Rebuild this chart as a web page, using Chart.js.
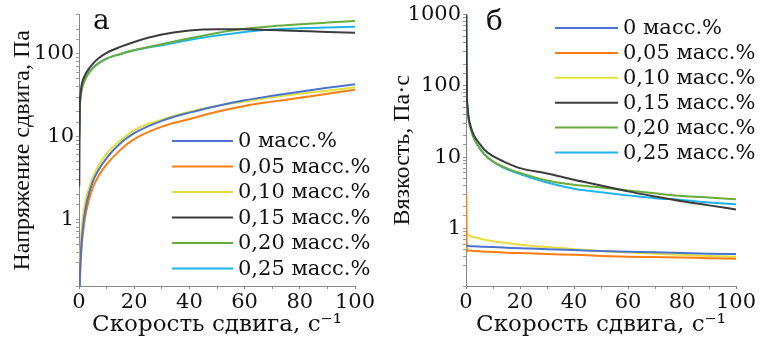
<!DOCTYPE html>
<html>
<head>
<meta charset="utf-8">
<script src="https://cdn.jsdelivr.net/npm/chart.js@4.4.0/dist/chart.umd.min.js"></script>
<style>
  body { margin: 0; background: #fff; }
  #wrap { position: relative; width: 761px; height: 345px; }
  .box { position: absolute; top: 0; height: 345px; }
  #boxA { left: 0; width: 380px; }
  #boxB { left: 380px; width: 381px; }
</style>
</head>
<body>
<div id="wrap">
  <div class="box" id="boxA"><canvas id="chartA"></canvas></div>
  <div class="box" id="boxB"><canvas id="chartB"></canvas></div>
</div>
<script>
// скорость сдвига, 1/с
const shearRate = [0.1, 0.3, 0.5, 1, 2, 3, 5, 7, 10, 15, 20, 30, 40, 50, 60, 70, 80, 90, 100];

const seriesLabels = ['0 масс.%', '0,05 масс.%', '0,10 масс.%', '0,15 масс.%', '0,20 масс.%', '0,25 масс.%'];
const seriesColors = ['#4a72d0', '#ff7d10', '#e4df3c', '#3c3c3c', '#68ac3c', '#1fb4ee'];

// (а) напряжение сдвига, Па
const stress0   = [0.06, 0.18, 0.29, 0.56, 1.12, 1.7, 2.85, 3.9, 5.5, 8.3, 11, 15.5, 19.5, 23.5, 27.5, 31.2, 35, 39, 43];
const stress005 = [0.05, 0.15, 0.25, 0.48, 0.95, 1.42, 2.4, 3.3, 4.6, 6.9, 9.3, 13.2, 16.3, 20, 23.5, 26.5, 29.5, 33, 37];
const stress010 = [0.09, 0.25, 0.4, 0.78, 1.45, 2.05, 3.2, 4.4, 6.2, 9, 12, 16, 20, 23.5, 26.5, 30, 33, 36, 39.5];
const stress015 = [2.5, 25, 32, 43, 54, 62, 76, 88, 103, 122, 140, 172, 193, 200, 199, 195, 190, 185, 181];
const stress020 = [10, 22, 28, 37, 47, 55, 67, 77, 88, 100, 111, 131, 155, 180, 202, 217, 229, 240, 251];
const stress025 = [12, 23, 29, 39, 48, 56, 68, 77, 88, 100, 111, 128, 148, 167, 185, 198, 205, 210, 214];

// (б) вязкость, Па·с
const visc0   = [0.57, 0.57, 0.57, 0.565, 0.56, 0.56, 0.555, 0.55, 0.545, 0.535, 0.525, 0.51, 0.495, 0.48, 0.47, 0.46, 0.45, 0.44, 0.435];
const visc005 = [3.0, 0.47, 0.48, 0.49, 0.485, 0.48, 0.475, 0.47, 0.465, 0.455, 0.45, 0.435, 0.425, 0.41, 0.40, 0.395, 0.39, 0.38, 0.374];
const visc010 = [0.88, 0.85, 0.83, 0.80, 0.77, 0.75, 0.72, 0.69, 0.66, 0.62, 0.59, 0.545, 0.51, 0.48, 0.46, 0.44, 0.425, 0.41, 0.40];
const visc015 = [1000, 80, 55, 36, 25, 20, 15.5, 12.5, 10.3, 8.3, 7.0, 5.9, 4.8, 4.0, 3.3, 2.8, 2.4, 2.1, 1.84];
const visc020 = [1000, 75, 50, 33, 23, 18, 13.3, 10.7, 8.7, 7.0, 6.0, 4.7, 4.1, 3.75, 3.4, 3.1, 2.85, 2.7, 2.56];
const visc025 = [1000, 76, 51, 33.5, 23.3, 18.2, 13.5, 10.8, 8.6, 6.8, 5.8, 4.4, 3.6, 3.2, 2.9, 2.65, 2.5, 2.3, 2.18];

const xTicksShown = [0, 20, 40, 60, 80, 100];

const SERIF_WIDE = '"DejaVu Serif", serif';
const SERIF = '"Liberation Serif", "Times New Roman", serif';

// легенда и буква панели рисуются прямо на холсте
const panelDecor = {
    id: 'panelDecor',
    afterDatasetsDraw(chart, args, o) {
        const ctx = chart.ctx;
        ctx.save();
        ctx.font = '28px ' + SERIF_WIDE;
        ctx.fillStyle = '#111';
        ctx.textBaseline = 'middle';
        ctx.textAlign = 'left';
        ctx.fillText(o.letter, o.letterX, o.letterY);

        ctx.font = '21px ' + SERIF_WIDE;
        chart.data.datasets.forEach((ds, i) => {
            const y = o.legY + i * o.legGap;
            ctx.strokeStyle = ds.borderColor;
            ctx.lineWidth = 2;
            ctx.beginPath();
            ctx.moveTo(o.legX, y);
            ctx.lineTo(o.legX + o.legLen, y);
            ctx.stroke();
            ctx.fillText(ds.label, o.legX + o.legLen + 5, y + 1);
        });
        ctx.restore();
    }
};

function makeChart(canvasId, values, yMin, yMax, yTitle, yWidth, decor) {
    const datasets = values.map((arr, i) => ({
        label: seriesLabels[i],
        data: shearRate.map((x, k) => ({ x: x, y: arr[k] })),
        borderColor: seriesColors[i],
        borderWidth: 2,
        pointRadius: 0,
        cubicInterpolationMode: 'monotone',
        fill: false
    }));

    return new Chart(document.getElementById(canvasId), {
        type: 'line',
        data: { datasets: datasets },
        plugins: [panelDecor],
        options: {
            responsive: true,
            maintainAspectRatio: false,
            animation: false,
            layout: { padding: { top: 14, right: 25, left: 0, bottom: 0 } },
            plugins: {
                legend: { display: false },
                tooltip: { enabled: false },
                panelDecor: decor
            },
            scales: {
                x: {
                    type: 'linear',
                    min: 0,
                    max: 100,
                    afterFit: (axis) => { axis.height = 59; },
                    border: { display: true, color: '#888', width: 1 },
                    grid: { drawOnChartArea: false, drawTicks: true, tickLength: 3, color: '#888' },
                    ticks: {
                        stepSize: 10,
                        maxRotation: 0,
                        autoSkip: false,
                        padding: 1,
                        color: '#111',
                        font: { family: SERIF_WIDE, size: 21 },
                        callback: (v) => xTicksShown.includes(v) ? String(v) : ''
                    },
                    title: {
                        display: true,
                        text: 'Скорость сдвига, с⁻¹',
                        color: '#111',
                        font: { family: SERIF_WIDE, size: 23 },
                        padding: { top: 0, bottom: 6 }
                    }
                },
                y: {
                    type: 'logarithmic',
                    min: yMin,
                    max: yMax,
                    afterFit: (axis) => { axis.width = yWidth; },
                    border: { display: true, color: '#888', width: 1 },
                    grid: { drawOnChartArea: false, drawTicks: true, tickLength: 3, color: '#999' },
                    ticks: {
                        autoSkip: false,
                        padding: 2,
                        color: '#111',
                        font: { family: SERIF_WIDE, size: 21 },
                        callback: (v) => {
                            const e = Math.log10(v);
                            return Math.abs(e - Math.round(e)) < 1e-9 ? String(v) : '';
                        }
                    },
                    title: {
                        display: true,
                        text: yTitle,
                        color: '#111',
                        font: { family: SERIF, size: 24 },
                        padding: { top: 8, bottom: 0 }
                    }
                }
            }
        }
    });
}

makeChart('chartA',
    [stress0, stress005, stress010, stress015, stress020, stress025],
    0.155, 300, 'Напряжение сдвига, Па', 79,
    { letter: 'а', letterX: 93, letterY: 22, legX: 172, legY: 141, legGap: 25.5, legLen: 61 });

makeChart('chartB',
    [visc0, visc005, visc010, visc015, visc020, visc025],
    0.155, 1000, 'Вязкость, Па·с', 86,
    { letter: 'б', letterX: 106, letterY: 23, legX: 175, legY: 28, legGap: 24.9, legLen: 63 });
</script>
</body>
</html>
